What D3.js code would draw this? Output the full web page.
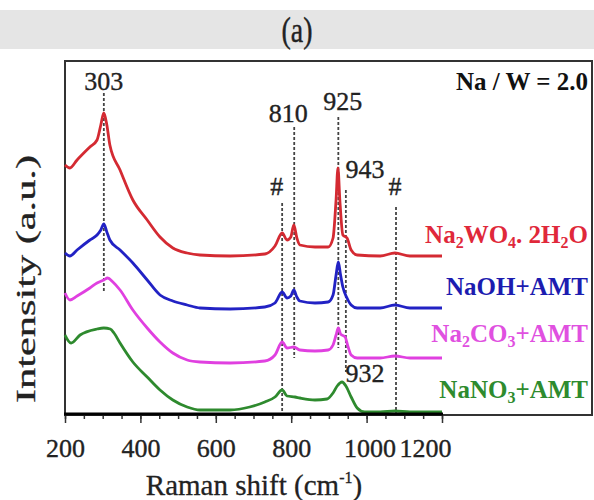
<!DOCTYPE html>
<html><head><meta charset="utf-8">
<script src="https://cdn.jsdelivr.net/npm/d3@7"></script>
<style>body{margin:0;background:#fff}svg{display:block}text{font-family:"Liberation Serif","Times New Roman",serif}</style>
</head><body><svg id="c" width="594" height="500"></svg>
<script>
// Raman shift (cm-1) and intensity (a.u., stacked offsets as drawn)
const naWO4 = [[200,249],[213,246],[232,254],[266,267],[285,274],[295,289],[303,301],[311,289],[319,269],[346,244],[380,214],[418,194],[452,177],[486,166],[524,161],[558,159],[638,158],[730,160],[757,168],[776,181],[789,174],[799,177],[807,189],[815,176],[823,169],[863,167],[898,167],[911,176],[919,214],[924,246],[929,214],[937,179],[948,176],[959,164],[975,159],[1036,158],[1075,161],[1115,158],[1200,158]];
const naOH = [[200,161],[213,158],[232,164],[266,174],[285,179],[295,184],[303,190],[311,182],[319,174],[346,164],[380,151],[418,134],[452,119],[486,113],[524,109],[558,106],[638,105],[730,107],[757,111],[776,122],[789,116],[799,118],[807,124],[815,117],[823,113],[863,111],[898,112],[911,119],[919,139],[925,152],[931,139],[937,127],[948,116],[959,109],[975,106],[1036,106],[1075,109],[1115,106],[1200,106]];
const na2CO3 = [[200,121],[213,114],[232,118],[266,126],[285,131],[303,134],[313,136],[327,132],[346,124],[380,104],[418,86],[452,72],[486,61],[524,54],[558,52],[638,51],[730,53],[757,59],[776,72],[789,66],[807,67],[823,64],[863,63],[898,64],[911,69],[919,79],[925,86],[931,80],[943,77],[951,67],[959,59],[975,56],[1036,56],[1075,58],[1115,56],[1200,56]];
const naNO3 = [[200,79],[216,71],[240,79],[285,85],[303,86],[320,85],[330,81],[346,71],[380,52],[418,37],[452,24],[486,14],[524,7],[558,4],[638,4],[690,7],[730,12],[757,17],[776,24],[789,18],[810,17],[823,16],[863,14],[895,15],[911,21],[922,28],[935,32],[945,28],[959,17],[975,6],[995,2],[1036,2],[1075,3],[1115,2],[1200,2]];
const seriesNames = ["Na2WO4. 2H2O","NaOH+AMT","Na2CO3+AMT","NaNO3+AMT"];
const seriesColors = ["#d42a32","#2222c4","#e040e0","#2e8a2e"];
const labelColors = ["#e0283a","#1c1cb0","#e050e0","#2e8b2e"];
// dashed marker lines: [shift, top intensity, bottom intensity]
const markers = [[303,321,122],[776,211,1],[808,287,56],[925,297,66],[945,224,42],[1078,207,1]];
// peak annotations: [text, shift, intensity of baseline]
const peakLabels = [["303",303,324],["810",792,292],["925",937,304],["943",996,236],["#",762,219],["#",1075,219],["932",996,32]];
const xTicks = [200,400,600,800,1000,1200];
const xMinor = d3.range(200,1201,50);

const svg = d3.select("#c");
const L=65, R=442, T=61, B=414, BOXR=592;
const x = d3.scaleLinear().domain([200,1200]).range([L,R]);
const y = d3.scaleLinear().domain([0,353]).range([B,T]);

// banner
svg.append("rect").attr("x",0).attr("y",10).attr("width",594).attr("height",39).attr("fill","#e5e5e5");
svg.append("text").attr("x",297).attr("y",42).attr("text-anchor","middle").attr("font-size",36)
  .attr("textLength",31).attr("lengthAdjust","spacingAndGlyphs").attr("fill","#222")
  .attr("stroke","#222").attr("stroke-width",0.4).text("(a)");

// box
svg.append("rect").attr("x",L).attr("y",T).attr("width",BOXR-L).attr("height",B-T+1)
  .attr("fill","#fff").attr("stroke","#333").attr("stroke-width",2);

// dashed markers
svg.append("g").selectAll("line").data(markers).join("line")
  .attr("x1",d=>x(d[0])).attr("x2",d=>x(d[0])).attr("y1",d=>y(d[1])).attr("y2",d=>y(d[2]))
  .attr("stroke","#444").attr("stroke-width",1.8).attr("stroke-dasharray","3,2");

// curves
const line = d3.line().x(d=>x(d[0])).y(d=>y(d[1])).curve(d3.curveMonotoneX);
[naWO4,naOH,na2CO3,naNO3].forEach((s,i)=>{
  svg.append("path").datum(s).attr("d",line).attr("fill","none")
    .attr("stroke",seriesColors[i]).attr("stroke-width",2.8).attr("stroke-linejoin","round");
});

// peak labels
svg.append("g").selectAll("text").data(peakLabels).join("text")
  .attr("x",d=>x(d[1])).attr("y",d=>y(d[2])).attr("text-anchor","middle")
  .attr("font-size",26).attr("fill","#222").attr("stroke","#222").attr("stroke-width",0.35).text(d=>d[0]);

// ratio label
svg.append("text").attr("x",588).attr("y",90).attr("text-anchor","end").attr("font-size",25)
  .attr("font-weight","bold").attr("fill","#111").text("Na / W = 2.0");

// legend labels with subscripts
const legendY = [243,295,342,398];
const parts = [
  [["Na",0],["2",1],["WO",0],["4",1],[". 2H",0],["2",1],["O",0]],
  [["NaOH+AMT",0]],
  [["Na",0],["2",1],["CO",0],["3",1],["+AMT",0]],
  [["NaNO",0],["3",1],["+AMT",0]]
];
parts.forEach((p,i)=>{
  const t = svg.append("text").attr("x",588).attr("y",legendY[i]).attr("text-anchor","end")
    .attr("font-size",25).attr("font-weight","bold").attr("fill",labelColors[i]);
  p.forEach(([s,sub],j)=>{
    const ts = t.append("tspan").text(s);
    if(sub) ts.attr("font-size",16).attr("dy",5);
    else if(j>0 && p[j-1][1]) ts.attr("dy",-5);
  });
});

// x axis
const gx = svg.append("g").attr("transform",`translate(0,${B})`);
gx.call(d3.axisBottom(x).tickValues(xMinor).tickSize(5).tickFormat(""));
gx.call(g=>g.select(".domain").remove());
const gxm = svg.append("g").attr("transform",`translate(0,${B})`);
gxm.call(d3.axisBottom(x).tickValues(xTicks).tickSize(9).tickPadding(16).tickFormat(d3.format("d")));
gxm.select(".domain").remove();
svg.selectAll(".tick line").attr("stroke","#333").attr("stroke-width",1.5);
gxm.selectAll(".tick text").attr("font-size",26).attr("fill","#222")
  .attr("font-family","'Liberation Serif',serif").attr("stroke","#222").attr("stroke-width",0.35)
  .attr("dx",d=>d===1200?-17:(d===1000?3:0));
svg.append("line").attr("x1",L-1).attr("x2",R+1).attr("y1",B).attr("y2",B).attr("stroke","#000").attr("stroke-width",3);

// axis titles
const xt = svg.append("text").attr("x",254).attr("y",495).attr("text-anchor","middle").attr("font-size",29)
  .attr("fill","#222").attr("stroke","#222").attr("stroke-width",0.3);
xt.append("tspan").text("Raman shift (cm");
xt.append("tspan").text("-1").attr("font-size",16).attr("dy",-12);
xt.append("tspan").text(")").attr("dy",12);
svg.append("text").attr("transform","translate(35,279) rotate(-90)").attr("text-anchor","middle")
  .attr("font-size",28).attr("textLength",248).attr("lengthAdjust","spacingAndGlyphs")
  .attr("fill","#222").attr("stroke","#222").attr("stroke-width",0.3).text("Intensity (a.u.)");
</script></body></html>
